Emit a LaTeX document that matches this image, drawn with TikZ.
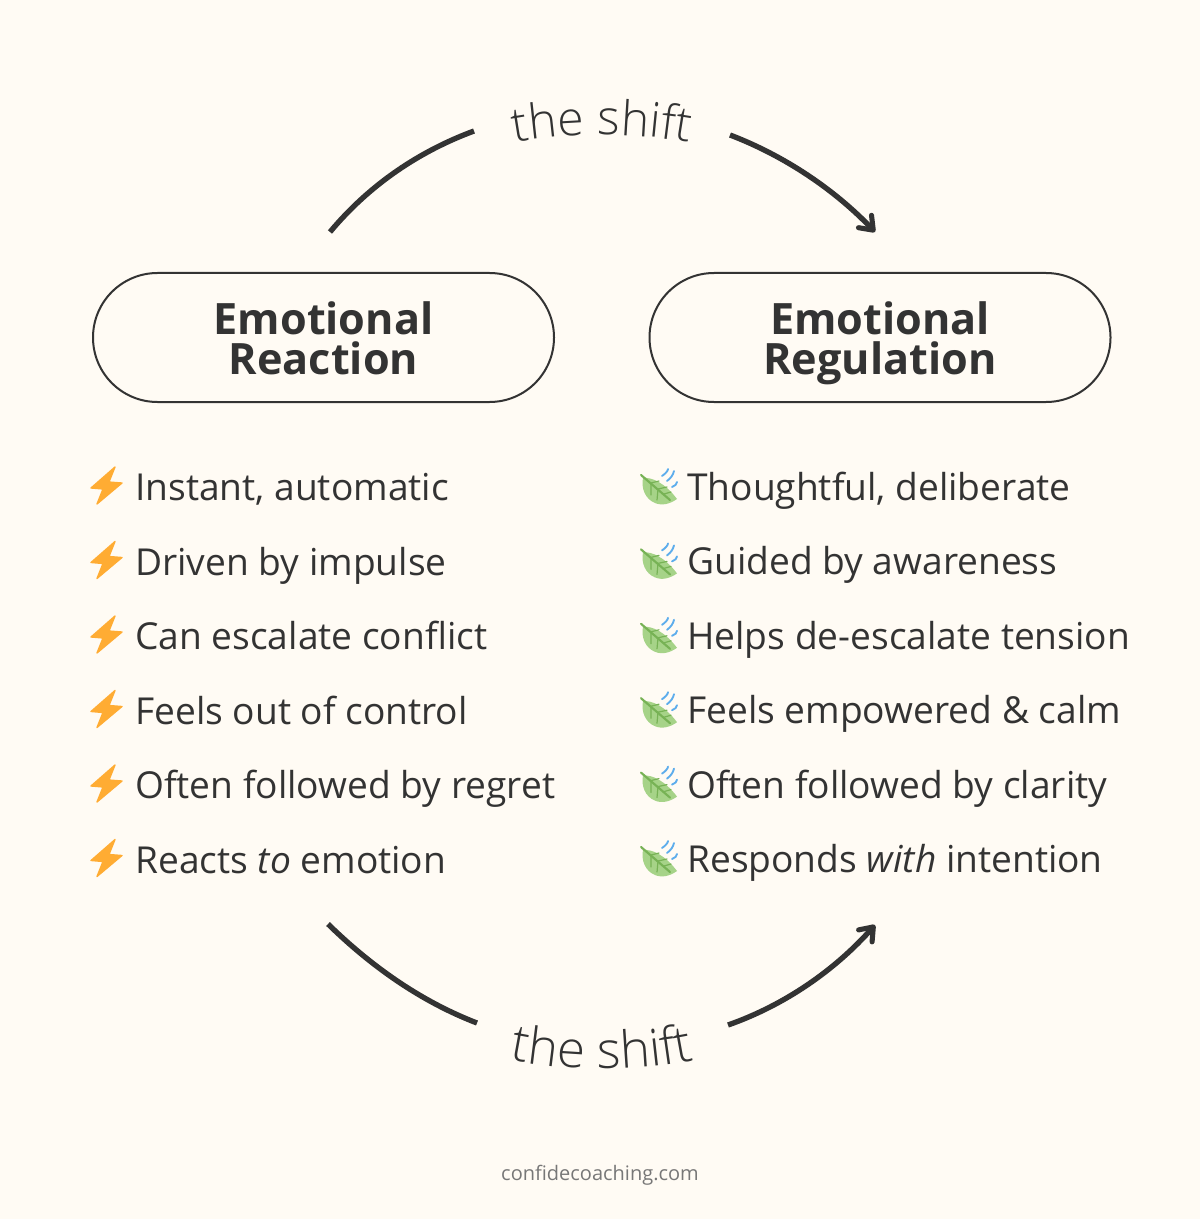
\documentclass[tikz,border=0pt]{standalone}
\usepackage{fontspec}
\setmainfont{Open Sans}
\newfontfamily\lightfont{Open Sans Light}
\usetikzlibrary{arrows.meta,shapes.misc,decorations.text}
\definecolor{paper}{HTML}{FFFBF4}
\definecolor{ink}{HTML}{333333}
\definecolor{boltc}{HTML}{FFAC33}
\definecolor{leafc}{HTML}{A6D388}
\definecolor{veinc}{HTML}{77B255}
\definecolor{windc}{HTML}{5DADEC}
\definecolor{footc}{HTML}{777777}
\newcommand{\pillfirst}[1]{\raisebox{-0.75pt}[\height][\depth]{#1}}
\newcommand{\pilllast}[1]{\raisebox{-0.75pt}[0pt][0pt]{#1}}
\tikzset{
  x=0.75pt,y=-0.75pt,
  pill/.style={rounded rectangle,draw=ink,line width=1.5pt,minimum width=345.75pt,minimum height=96.75pt,
    align=center,text=ink,font=\fontsize{32.4}{30}\selectfont\bfseries,inner sep=0pt},
  item/.style={anchor=base west,inner sep=0pt,text=ink,font=\fontsize{27.85}{34}\selectfont},
  shiftarc/.style={line width=4pt,draw=ink},
  shifttip/.style={-{Straight Barb[length=9pt,width=13.5pt,line width=3.8pt,round]}},
  pics/bolt/.style={code={
    \fill[boltc,draw=boltc,line width=1pt,line join=round]
      (115,467)--(91,488)--(103,489)--(97,504)--(122,483)--(109,482)--cycle;}},
  pics/leaf/.style={code={
    \fill[leafc] (643,478) .. controls (652,477) and (665,483) .. (677,499)
       .. controls (670,504) and (662,506) .. (655,503) .. controls (645,499) and (641,488) .. (643,478) -- cycle;
    \draw[veinc,line width=1.6pt,line cap=round] (641,475) -- (670,500);
    \draw[veinc,line width=0.9pt,line cap=round] (651,483) -- (651,495) (658,489) -- (657,500) (651,483) -- (659,481) (658,489) -- (667,487) (664,494) -- (671,492);
    \draw[windc,line width=1.4pt,line cap=round] (662,476) .. controls (665,474) and (668,471) .. (668,469)
      (667,481) .. controls (671,478) and (673,475) .. (674,471)
      (672,487) .. controls (675,486) and (677,484) .. (677,482);}},
}
\begin{document}
\begin{tikzpicture}
\useasboundingbox[fill=paper] (0,0) rectangle (1200,1219);
\node[pill] (reaction) at (323.5,337.5) {\pillfirst{Emotional}\\\pilllast{Reaction}};
\node[pill] (regulation) at (880,337.5) {\pillfirst{Emotional}\\\pilllast{Regulation}};

\coordinate (tla) at (330,232); \coordinate (tlb) at (474,131);
\coordinate (tra) at (730,135); \coordinate (trb) at (875,232);
\coordinate (bla) at (328,924); \coordinate (blb) at (477,1023);
\coordinate (bra) at (728,1025); \coordinate (brb) at (875,925);
\draw[shiftarc] (tla) .. controls (370,184) and (420,151) .. (tlb);
\draw[shiftarc,shifttip] (tra) .. controls (785,156) and (835,190) .. (trb);
\draw[shiftarc] (bla) .. controls (375,970) and (425,1003) .. (blb);
\draw[shiftarc,shifttip] (bra) .. controls (785,1005) and (835,970) .. (brb);

\path[decorate,decoration={text along path,text align=center,
  text={|\color{ink}\fontsize{36}{40}\selectfont\lightfont|the shift}}]
  (482,150) .. controls (552,130) and (652,130) .. (722,150);
\path[decorate,decoration={text along path,text align=center,
  text={|\color{ink}\fontsize{38.3}{40}\selectfont\lightfont|the shift}}]
  (482,1053) .. controls (552,1074) and (652,1074) .. (722,1053);

\foreach \i/\t in {0/{Instant, automatic},1/{Driven by impulse},2/{Can escalate conflict},3/{Feels out of control},4/{Often followed by regret},5/{Reacts \textit{to} emotion}}{
  \pic at (0,{74.5*\i}) {bolt};
  \node[item] (l\i) at (135,{500.5+74.55*\i}) {\t};
}
\foreach \i/\t in {0/{Thoughtful, deliberate},1/{Guided by awareness},2/{Helps de-escalate tension},3/{Feels empowered \& calm},4/{Often followed by clarity},5/{Responds \textit{with} intention}}{
  \pic at (0,{74.4*\i}) {leaf};
  \node[item] (r\i) at (687,{500.5+74.45*\i}) {\t};
}
\node[anchor=base,inner sep=0pt,text=footc,font=\fontsize{15}{18}\selectfont] (foot) at (600,1180) {confidecoaching.com};
\end{tikzpicture}
\end{document}
